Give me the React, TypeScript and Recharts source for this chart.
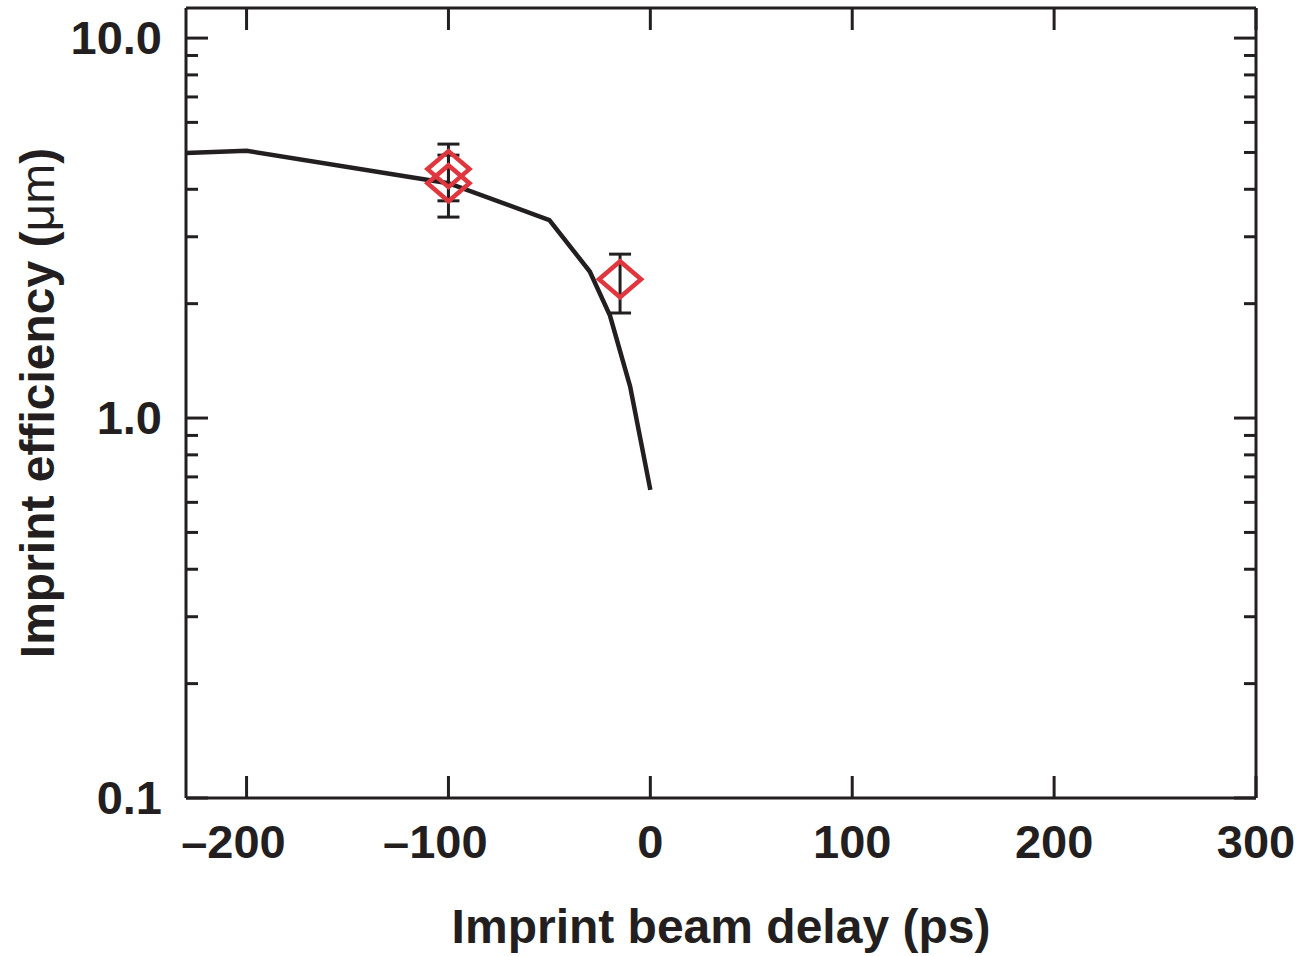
import React from 'react';
import { ComposedChart, Line, Scatter, XAxis, YAxis, ErrorBar, Label } from 'recharts';

// ---- data ----
const lineDelay = [-230, -200, -100, -50, -30, -20, -10, 0];
const lineEfficiency = [4.98, 5.05, 4.15, 3.32, 2.43, 1.86, 1.21, 0.647];

const pointDelay = [-100, -100, -15];
const pointEfficiency = [4.52, 4.15, 2.32];
const pointErrLow = [0.79, 0.77, 0.43];
const pointErrHigh = [0.74, 0.77, 0.38];

const xTicks = [-200, -100, 0, 100, 200, 300];
const xTickLabels = ['\u2013200', '\u2013100', '0', '100', '200', '300'];
const yMajorTicks = [0.1, 1, 10];
const yMajorLabels = ['0.1', '1.0', '10.0'];
const yMinorTicks = [0.2, 0.3, 0.4, 0.5, 0.6, 0.7, 0.8, 0.9, 2, 3, 4, 5, 6, 7, 8, 9];
const yAllTicks = [...yMajorTicks, ...yMinorTicks].sort((a, b) => a - b);

const xTitle = 'Imprint beam delay (ps)';
const yTitle = 'Imprint efficiency (';
const yTitleUnit = '\u03bcm';

const lineData = lineDelay.map((x, i) => ({ x, y: lineEfficiency[i] }));
const pointData = pointDelay.map((x, i) => ({
  x,
  y: pointEfficiency[i],
  err: [pointErrLow[i], pointErrHigh[i]],
}));

// ---- styles ----
const INK = '#231f20';
const RED = '#e0363e';
const FONT = '"Liberation Sans", Arial, Helvetica, sans-serif';
const FS = 47;
const AXW = 3;

const LeftYTick = (props: any) => {
  const { x, y, payload } = props;
  const idx = yMajorTicks.indexOf(payload.value);
  const major = idx >= 0;
  return (
    <g>
      <line x1={x} x2={x + (major ? 22 : 12)} y1={y} y2={y} stroke={INK} strokeWidth={AXW} />
      {major && (
        <text x={x - 24} y={y + 16} textAnchor="end" fontFamily={FONT} fontWeight="bold" fontSize={FS} fill={INK}>
          {yMajorLabels[idx]}
        </text>
      )}
    </g>
  );
};

const RightYTick = (props: any) => {
  const { x, y, payload } = props;
  const major = yMajorTicks.indexOf(payload.value) >= 0;
  return <line x1={x} x2={x - (major ? 22 : 12)} y1={y} y2={y} stroke={INK} strokeWidth={AXW} />;
};

const BottomXTick = (props: any) => {
  const { x, y, payload } = props;
  const idx = xTicks.indexOf(payload.value);
  const label = idx >= 0 ? xTickLabels[idx] : String(payload.value);
  const neg = label.startsWith('\u2013');
  const digits = neg ? label.slice(1) : label;
  const half = (digits.length * 0.556 * FS) / 2;
  return (
    <g>
      <line x1={x} x2={x} y1={y} y2={y - 22} stroke={INK} strokeWidth={AXW} />
      <text x={x} y={y + 60} textAnchor="middle" fontFamily={FONT} fontWeight="bold" fontSize={FS} fill={INK}>
        {digits}
      </text>
      {neg && (
        <text x={x - half} y={y + 60} textAnchor="end" fontFamily={FONT} fontWeight="bold" fontSize={FS} fill={INK}>
          {'\u2013'}
        </text>
      )}
    </g>
  );
};

const TopXTick = (props: any) => {
  const { x, y } = props;
  return <line x1={x} x2={x} y1={y} y2={y + 22} stroke={INK} strokeWidth={AXW} />;
};

const Diamond = (props: any) => {
  const { cx, cy } = props;
  if (cx == null || cy == null) return <g />;
  return (
    <path
      d={`M${cx},${cy - 18} L${cx + 21},${cy} L${cx},${cy + 18} L${cx - 21},${cy} Z`}
      fill="none"
      stroke={RED}
      strokeWidth={4.5}
      strokeLinejoin="miter"
    />
  );
};

const XTitleContent = (props: any) => {
  const vb = props.viewBox || { x: 186, y: 798, width: 1070, height: 158 };
  return (
    <text x={vb.x + vb.width / 2} y={vb.y + 145} textAnchor="middle" fontFamily={FONT} fontWeight="bold" fontSize={48} fill={INK}>
      {xTitle}
    </text>
  );
};

const YTitleContent = (props: any) => {
  const vb = props.viewBox || { x: 0, y: 8, width: 186, height: 790 };
  const cx = vb.x + 54;
  const cy = vb.y + vb.height / 2;
  return (
    <text
      x={cx}
      y={cy}
      transform={`rotate(-90 ${cx} ${cy})`}
      textAnchor="middle"
      fontFamily={FONT}
      fontWeight="bold"
      fontSize={48}
      fill={INK}
    >
      {yTitle}
      <tspan fontWeight="normal">{yTitleUnit}</tspan>
      {')'}
    </text>
  );
};

export default function App() {
  return (
    <div style={{ position: 'absolute', left: 0, top: 0, width: 1299, height: 956, background: '#fff' }}>
      <ComposedChart width={1299} height={956} margin={{ top: 0, right: 0, bottom: 0, left: 0 }}>
        <XAxis
          xAxisId="b"
          type="number"
          dataKey="x"
          orientation="bottom"
          domain={[-230, 300]}
          allowDataOverflow
          ticks={xTicks}
          interval={0}
          height={158}
          tickSize={0}
          tickMargin={0}
          tickLine={false}
          axisLine={{ stroke: INK, strokeWidth: AXW }}
          tick={<BottomXTick />}
        >
          <Label content={<XTitleContent />} />
        </XAxis>
        <XAxis
          xAxisId="t"
          type="number"
          dataKey="x"
          orientation="top"
          domain={[-230, 300]}
          allowDataOverflow
          ticks={xTicks}
          interval={0}
          height={8}
          tickSize={0}
          tickMargin={0}
          tickLine={false}
          axisLine={{ stroke: INK, strokeWidth: AXW }}
          tick={<TopXTick />}
        />
        <YAxis
          yAxisId="l"
          type="number"
          dataKey="y"
          orientation="left"
          scale="log"
          domain={[0.1, 12]}
          allowDataOverflow
          ticks={yAllTicks}
          interval={0}
          width={186}
          tickSize={0}
          tickMargin={0}
          tickLine={false}
          axisLine={{ stroke: INK, strokeWidth: AXW }}
          tick={<LeftYTick />}
        >
          <Label content={<YTitleContent />} />
        </YAxis>
        <YAxis
          yAxisId="r"
          type="number"
          dataKey="y"
          orientation="right"
          scale="log"
          domain={[0.1, 12]}
          allowDataOverflow
          ticks={yAllTicks}
          interval={0}
          width={43}
          tickSize={0}
          tickMargin={0}
          tickLine={false}
          axisLine={{ stroke: INK, strokeWidth: AXW }}
          tick={<RightYTick />}
        />
        <Line
          xAxisId="b"
          yAxisId="l"
          data={lineData}
          dataKey="y"
          type="linear"
          stroke={INK}
          strokeWidth={4.5}
          dot={false}
          activeDot={false}
          isAnimationActive={false}
        />
        <Scatter
          xAxisId="t"
          yAxisId="r"
          data={pointData}
          dataKey="y"
          shape={<Diamond />}
          isAnimationActive={false}
        >
          <ErrorBar dataKey="err" direction="y" width={11} stroke={INK} strokeWidth={3} isAnimationActive={false} />
        </Scatter>
      </ComposedChart>
    </div>
  );
}
